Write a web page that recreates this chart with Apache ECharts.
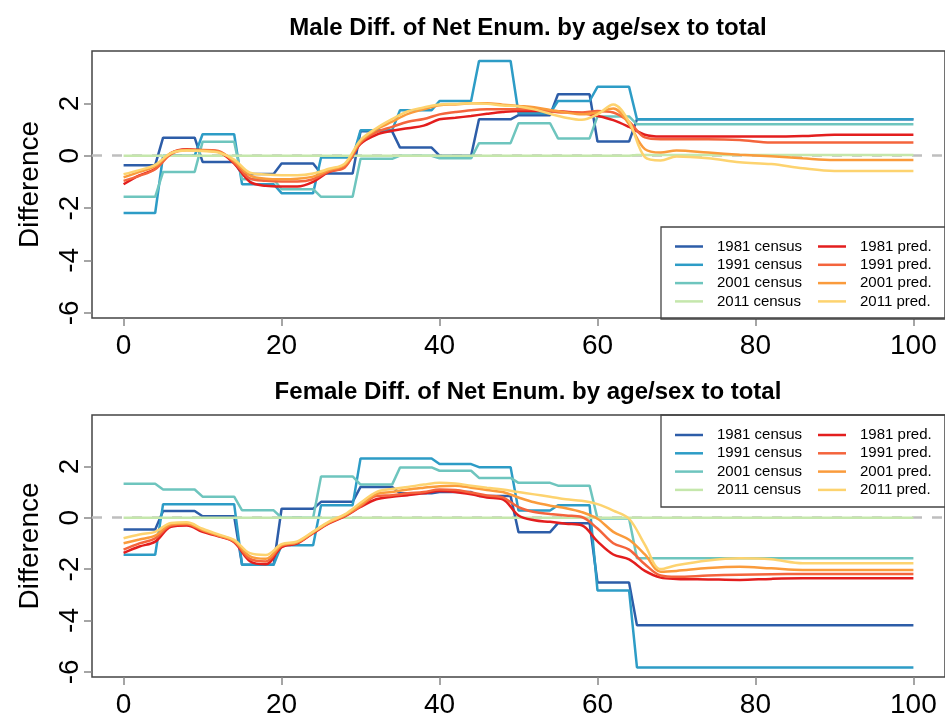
<!DOCTYPE html>
<html>
<head>
<meta charset="utf-8">
<script src="https://cdn.jsdelivr.net/npm/echarts@6/dist/echarts.min.js"></script>
<style>
  html, body { margin: 0; padding: 0; background: #fff; }
  #chart { width: 945px; height: 719px; }
</style>
</head>
<body>
<div id="chart"></div>
<script>
// ---- data ----
var seriesNames = ['1981 census', '1991 census', '2001 census', '2011 census',
                   '1981 pred.', '1991 pred.', '2001 pred.', '2011 pred.'];
var seriesColors = ['#2D5DA8', '#2D9CC6', '#6EC5BE', '#C5E7AC',
                    '#E31E1E', '#F4643C', '#FA9B3C', '#FDD36F'];

// census values per 5-year age group (0-4, 5-9, ..., 60-64, 65+)
var groupStarts = [0, 5, 10, 15, 20, 25, 30, 35, 40, 45, 50, 55, 60, 65];
var maleCensus1981 = [-0.36, 0.69, -0.24, -0.7, -0.3, -0.68, 0.93, 0.31, 0.0, 1.39, 1.55, 2.35, 0.54, 1.39];
var maleCensus1991 = [-2.19, 0.0, 0.82, -1.09, -1.43, -0.07, 0.97, 1.74, 2.09, 3.62, 1.62, 2.09, 2.63, 1.39];
var maleCensus2001 = [-1.57, -0.62, 0.53, -0.9, -1.28, -1.57, -0.12, 0.0, -0.1, 0.48, 1.24, 0.66, 1.5, 1.2];
var maleCensus2011 = [0, 0, 0, 0, 0, 0, 0, 0, 0, 0, 0, 0, 0, 0.03];
var femaleCensus1981 = [-0.46, 0.26, 0.06, -1.83, 0.35, 0.62, 1.2, 0.95, 1.0, 0.85, -0.56, -0.21, -2.52, -4.19];
var femaleCensus1991 = [-1.44, 0.53, 0.53, -1.83, -1.07, 0.49, 2.31, 2.31, 2.09, 1.97, 0.28, 0.49, -2.83, -5.83];
var femaleCensus2001 = [1.32, 1.1, 0.82, 0.29, 0.0, 1.61, 1.29, 1.96, 1.83, 1.55, 1.36, 1.25, -0.03, -1.58];
var femaleCensus2011 = [0, 0, 0, 0, 0, 0, 0, 0, 0, 0, 0, 0, 0, 0];

// smoothed predictions, sampled at these ages
var predAges = [0, 2, 4, 6, 8, 10, 12, 14, 16, 18, 20, 22, 24, 26, 28, 30, 32, 34, 36, 38,
                40, 42, 44, 46, 48, 50, 52, 54, 56, 58, 60, 62, 64, 66, 68, 70,
                74, 78, 82, 86, 90, 95, 100];
var malePred1981 = [-1.09, -0.75, -0.5, 0.1, 0.25, 0.21, 0.15, -0.3, -1.0, -1.15, -1.18, -1.18, -1.0, -0.62, -0.42, 0.45, 0.8, 0.95, 1.05, 1.15,
                    1.39, 1.45, 1.52, 1.6, 1.67, 1.71, 1.71, 1.71, 1.68, 1.63, 1.52, 1.36, 1.1, 0.8, 0.73, 0.73,
                    0.73, 0.73, 0.73, 0.75, 0.8, 0.8, 0.8];
var malePred1991 = [-0.96, -0.77, -0.52, 0.06, 0.22, 0.22, 0.18, -0.26, -0.87, -0.96, -0.99, -0.99, -0.9, -0.6, -0.45, 0.5, 0.9, 1.1, 1.3, 1.4,
                    1.58, 1.67, 1.74, 1.77, 1.77, 1.77, 1.77, 1.7, 1.65, 1.65, 1.71, 1.65, 1.3, 0.7, 0.63, 0.63,
                    0.63, 0.6, 0.5, 0.5, 0.5, 0.5, 0.5];
var malePred2001 = [-0.83, -0.62, -0.4, 0.1, 0.22, 0.2, 0.15, -0.2, -0.75, -0.88, -0.9, -0.88, -0.8, -0.55, -0.35, 0.55, 1.0, 1.3, 1.6, 1.77,
                    1.93, 1.96, 2.0, 2.0, 1.95, 1.9, 1.85, 1.75, 1.65, 1.58, 1.65, 1.8, 1.2, 0.25, 0.12, 0.2,
                    0.12, 0.04, -0.02, -0.1, -0.16, -0.16, -0.16];
var malePred2011 = [-0.71, -0.55, -0.35, 0.1, 0.2, 0.18, 0.12, -0.15, -0.65, -0.72, -0.75, -0.75, -0.68, -0.5, -0.3, 0.6, 1.05, 1.4, 1.7, 1.84,
                    1.96, 1.98, 2.0, 1.98, 1.92, 1.88, 1.77, 1.6, 1.45, 1.37, 1.58, 1.96, 1.3, -0.05, -0.18, -0.03,
                    -0.1, -0.25, -0.32, -0.48, -0.58, -0.58, -0.58];
var femalePred1981 = [-1.37, -1.12, -0.93, -0.35, -0.3, -0.55, -0.72, -0.95, -1.69, -1.81, -1.15, -1.0, -0.6, -0.22, 0.05, 0.42, 0.72, 0.82, 0.88, 0.95,
                      1.04, 1.0, 0.91, 0.79, 0.72, 0.09, -0.1, -0.16, -0.23, -0.29, -0.92, -1.43, -1.62, -2.07, -2.33, -2.38,
                      -2.4, -2.42, -2.38, -2.36, -2.36, -2.36, -2.36];
var femalePred1991 = [-1.24, -1.0, -0.8, -0.3, -0.25, -0.5, -0.7, -0.92, -1.6, -1.7, -1.1, -0.97, -0.58, -0.2, 0.07, 0.45, 0.85, 0.88, 0.95, 1.0,
                      1.1, 1.08, 0.98, 0.87, 0.79, 0.41, 0.22, 0.15, 0.09, 0.03, -0.42, -0.99, -1.24, -1.81, -2.25, -2.3,
                      -2.25, -2.22, -2.2, -2.19, -2.19, -2.19, -2.19];
var femalePred2001 = [-0.99, -0.85, -0.7, -0.25, -0.22, -0.47, -0.68, -0.9, -1.5, -1.6, -1.07, -0.95, -0.56, -0.18, 0.1, 0.5, 0.92, 1.0, 1.1, 1.17,
                      1.23, 1.25, 1.17, 1.08, 1.0, 0.79, 0.6, 0.47, 0.37, 0.22, -0.04, -0.55, -0.86, -1.43, -2.1, -2.07,
                      -1.96, -1.91, -1.97, -2.03, -2.03, -2.03, -2.03];
var femalePred2011 = [-0.8, -0.65, -0.55, -0.2, -0.18, -0.43, -0.65, -0.86, -1.38, -1.45, -1.03, -0.92, -0.54, -0.15, 0.13, 0.58, 1.0, 1.12, 1.2, 1.29,
                      1.36, 1.33, 1.25, 1.17, 1.1, 1.0, 0.91, 0.82, 0.72, 0.66, 0.53, 0.28, -0.04, -1.05, -2.0, -1.85,
                      -1.66, -1.58, -1.62, -1.77, -1.77, -1.77, -1.77];

var xTicks = [0, 20, 40, 60, 80, 100];
var yTicks = [-6, -4, -2, 0, 2];
var titles = ['Male Diff. of Net Enum. by age/sex to total',
              'Female Diff. of Net Enum. by age/sex to total'];

var panels = [
  { census: [maleCensus1981, maleCensus1991, maleCensus2001, maleCensus2011],
    pred: [malePred1981, malePred1991, malePred2001, malePred2011] },
  { census: [femaleCensus1981, femaleCensus1991, femaleCensus2001, femaleCensus2011],
    pred: [femalePred1981, femalePred1991, femalePred2001, femalePred2011] }
];

// ---- helpers ----
function censusPoints(values) {
  var pts = [];
  for (var i = 0; i < groupStarts.length; i++) {
    var start = groupStarts[i];
    var end = i < groupStarts.length - 1 ? start + 4 : 100;
    pts.push([start, values[i]]);
    pts.push([end, values[i]]);
  }
  return pts;
}
function predPoints(values) {
  return predAges.map(function (a, i) { return [a, values[i]]; });
}

var FONT = '"Liberation Sans", Arial, sans-serif';
var gridTops = [51, 415];
var gridHeight = 267;

var myChart = echarts.init(document.getElementById('chart'), null, { renderer: 'canvas' });

var grids = [], xAxes = [], yAxes = [], series = [], legends = [], graphics = [];

panels.forEach(function (panel, p) {
  grids.push({ left: 92, top: gridTops[p], width: 862, height: gridHeight,
               show: true, borderColor: '#444', borderWidth: 1.5, backgroundColor: 'transparent' });
  xAxes.push({
    gridIndex: p, type: 'value', min: -4, max: 104, position: 'bottom',
    axisLine: { show: false, onZero: false }, splitLine: { show: false },
    axisTick: { show: true, length: 8, customValues: xTicks, lineStyle: { color: '#888', width: 1.5 } },
    axisLabel: { customValues: xTicks, fontSize: 28, color: '#000', margin: 14, fontFamily: FONT }
  });
  yAxes.push({
    gridIndex: p, type: 'value', min: -6.2, max: 4.0, position: 'left',
    axisLine: { show: false, onZero: false }, splitLine: { show: false },
    axisTick: { show: true, length: 8, customValues: yTicks, lineStyle: { color: '#888', width: 1.5 } },
    axisLabel: { customValues: yTicks, rotate: 90, fontSize: 28, color: '#000', margin: 8, fontFamily: FONT },
    name: 'Difference', nameLocation: 'middle', nameGap: 48,
    nameTextStyle: { fontSize: 28, color: '#000', fontFamily: FONT }
  });

  // zero reference line
  series.push({
    type: 'line', xAxisIndex: p, yAxisIndex: p, data: [], silent: true, z: 1,
    markLine: { silent: true, symbol: 'none', label: { show: false }, animation: false,
                lineStyle: { color: '#bebebe', type: [10, 10], width: 2.5 },
                data: [{ yAxis: 0 }] }
  });

  panel.census.forEach(function (vals, k) {
    series.push({
      name: seriesNames[k], type: 'line', xAxisIndex: p, yAxisIndex: p,
      data: censusPoints(vals), symbol: 'none', z: 6,
      lineStyle: { color: seriesColors[k], width: 2.5 }, itemStyle: { color: seriesColors[k] }
    });
  });
  panel.pred.forEach(function (vals, k) {
    series.push({
      name: seriesNames[k + 4], type: 'line', xAxisIndex: p, yAxisIndex: p,
      data: predPoints(vals), symbol: 'none', smooth: 0.35, z: 6,
      lineStyle: { color: seriesColors[k + 4], width: 2.5 }, itemStyle: { color: seriesColors[k + 4] }
    });
  });

  var legendTop = p === 0 ? 239 : 427.5;
  [seriesNames.slice(0, 4), seriesNames.slice(4)].forEach(function (names, c) {
    legends.push({
      data: names, orient: 'vertical', left: c === 0 ? 675 : 818, top: legendTop,
      padding: 0, icon: 'rect', itemWidth: 28, itemHeight: 2.5, itemGap: 3.3, selectedMode: false,
      textStyle: { fontSize: 15, lineHeight: 15, color: '#000', fontFamily: FONT, padding: [0, 0, 0, 9] }
    });
  });

  var boxTop = p === 0 ? 227 : 415;
  graphics.push({
    type: 'rect', silent: true, z: 10,
    shape: { x: 661, y: boxTop, width: 320, height: 92 },
    style: { fill: 'none', stroke: '#444', lineWidth: 1.3 }
  });
});

var option = {
  animation: false,
  backgroundColor: '#fff',
  title: titles.map(function (t, i) {
    return { text: t, left: 523, top: i === 0 ? 11 : 375, textAlign: 'center',
             textStyle: { fontSize: 24, fontWeight: 'bold', color: '#000', fontFamily: FONT } };
  }),
  legend: legends,
  grid: grids,
  xAxis: xAxes,
  yAxis: yAxes,
  graphic: graphics,
  series: series
};
myChart.setOption(option);
</script>
</body>
</html>
